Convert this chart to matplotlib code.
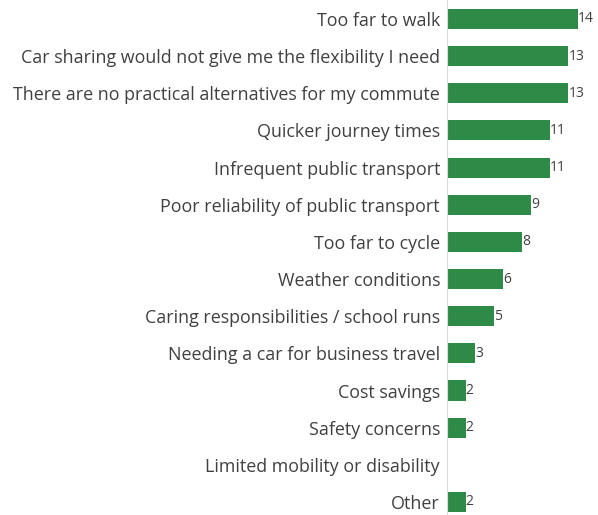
import matplotlib
matplotlib.use('Agg')
import numpy as np
import matplotlib.pyplot as plt

categories = [
    'Too far to walk',
    'Car sharing would not give me the flexibility I need',
    'There are no practical alternatives for my commute',
    'Quicker journey times',
    'Infrequent public transport',
    'Poor reliability of public transport',
    'Too far to cycle',
    'Weather conditions',
    'Caring responsibilities / school runs',
    'Needing a car for business travel',
    'Cost savings',
    'Safety concerns',
    'Limited mobility or disability',
    'Other',
]
values = [14, 13, 13, 11, 11, 9, 8, 6, 5, 3, 2, 2, None, 2]

plt.rcParams['font.family'] = ['Open Sans', 'DejaVu Sans']

fig = plt.figure(figsize=(5.98, 5.15), dpi=100)
ax = fig.add_axes([447 / 598, 0, 140 / 598, 1])

y = np.arange(len(categories))
w = [v if v is not None else 0 for v in values]
ax.barh(y, w, height=0.54, color='#2E8B47')
for yi, v in zip(y, values):
    if v is not None:
        ax.text(v + 0.02, yi, str(v), va='center', ha='left', fontsize=10, color='#404040')

ax.set_xlim(0, 15)
ax.set_ylim(13.35, -0.51)
ax.set_yticks(y)
ax.set_yticklabels(categories, fontsize=12.9, color='#404040')
ax.tick_params(axis='y', length=0, pad=5)
ax.set_xticks([])
for s in ['top', 'right', 'bottom']:
    ax.spines[s].set_visible(False)
ax.spines['left'].set_color('#d9d9d9')
ax.spines['left'].set_linewidth(0.8)

fig.savefig('out.png', dpi=100)
